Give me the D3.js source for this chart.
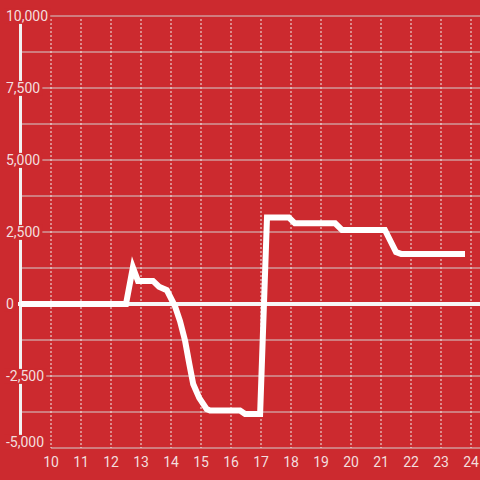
<!DOCTYPE html>
<html>
<head>
<meta charset="utf-8">
<script src="https://cdn.jsdelivr.net/npm/d3@7"></script>
<style>
  body { margin: 0; background: #cc2a2f; }
  svg { display: block; }
  text { font-family: Roboto, "Liberation Sans", sans-serif; font-size: 14px; fill: #f3dede; }
</style>
</head>
<body>
<script>
// time of day (hours) and value
var hours  = [9.0, 12.5, 12.73, 12.9, 13.4, 13.6, 13.86, 14.13, 14.3, 14.47, 14.61, 14.74, 14.94, 15.19, 15.3, 16.3, 16.47, 16.97, 17.2, 17.93, 18.13, 19.47, 19.7, 21.13, 21.5, 21.67, 23.8];
var values = [0, 0, 1270, 800, 800, 600, 480, -70, -590, -1280, -2080, -2780, -3260, -3650, -3700, -3700, -3820, -3820, 3000, 3000, 2800, 2800, 2570, 2570, 1800, 1740, 1740];

var xTicks = [10, 11, 12, 13, 14, 15, 16, 17, 18, 19, 20, 21, 22, 23, 24];
var yTicks = [10000, 7500, 5000, 2500, 0, -2500, -5000];
var yMinor = [8750, 6250, 3750, 1250, -1250, -3750];

var width = 480, height = 480;
var bg = "#cc2a2f";

var svg = d3.select("body").append("svg")
  .attr("width", width)
  .attr("height", height);

var x = d3.scaleLinear().domain([10, 24]).range([51, 471]);
var y = d3.scaleLinear().domain([-5000, 10000]).range([448, 16]);

// horizontal grid, minor and major
svg.append("g").selectAll("line")
  .data(yMinor.concat(yTicks.filter(function(d) { return d > -5000 && d !== 0; })))
  .enter().append("line")
  .attr("x1", 22).attr("x2", width)
  .attr("y1", function(d) { return y(d); })
  .attr("y2", function(d) { return y(d); })
  .attr("stroke", "#d4cfcf").attr("stroke-width", 1);

// bottom baseline
svg.append("line")
  .attr("x1", x(10)).attr("x2", width)
  .attr("y1", y(-5000)).attr("y2", y(-5000))
  .attr("stroke", "#d4cfcf").attr("stroke-width", 1);

// vertical dotted grid
svg.append("g").selectAll("line").data(xTicks).enter().append("line")
  .attr("x1", function(d) { return x(d); })
  .attr("x2", function(d) { return x(d); })
  .attr("y1", 19).attr("y2", y(-5000))
  .attr("stroke", "#eee").attr("stroke-width", 1)
  .attr("stroke-dasharray", "2,2");

// vertical axis bar
svg.append("line")
  .attr("x1", 20.5).attr("x2", 20.5)
  .attr("y1", y(10000)).attr("y2", y(-5000))
  .attr("stroke", "#f2f2f2").attr("stroke-width", 3);

// zero line
svg.append("line")
  .attr("x1", 18).attr("x2", width)
  .attr("y1", y(0)).attr("y2", y(0))
  .attr("stroke", "#f7f7f7").attr("stroke-width", 4);

// y labels, each on a background box
var yl = svg.append("g").selectAll("g").data(yTicks).enter().append("g");
yl.append("text")
  .attr("x", 6)
  .attr("y", function(d) { return d === -5000 ? y(d) - 6 : y(d); })
  .attr("dy", "0.35em")
  .text(function(d) { return d3.format(",")(d).replace("−", "-"); });
yl.each(function() {
  var g = d3.select(this), b = g.select("text").node().getBBox();
  g.insert("rect", "text")
    .attr("x", b.x - 2).attr("y", b.y + 1)
    .attr("width", b.width + 4).attr("height", b.height - 1)
    .attr("fill", bg);
});

// x labels
svg.append("g").selectAll("text").data(xTicks).enter().append("text")
  .attr("x", function(d) { return x(d); })
  .attr("y", 462)
  .attr("dy", "0.35em")
  .attr("text-anchor", "middle")
  .text(function(d) { return d; });

// the series
var line = d3.line()
  .x(function(d, i) { return x(hours[i]); })
  .y(function(d) { return y(d); });

svg.append("path")
  .datum(values)
  .attr("d", line)
  .attr("fill", "none")
  .attr("stroke", "#fff")
  .attr("stroke-width", 6);
</script>
</body>
</html>
